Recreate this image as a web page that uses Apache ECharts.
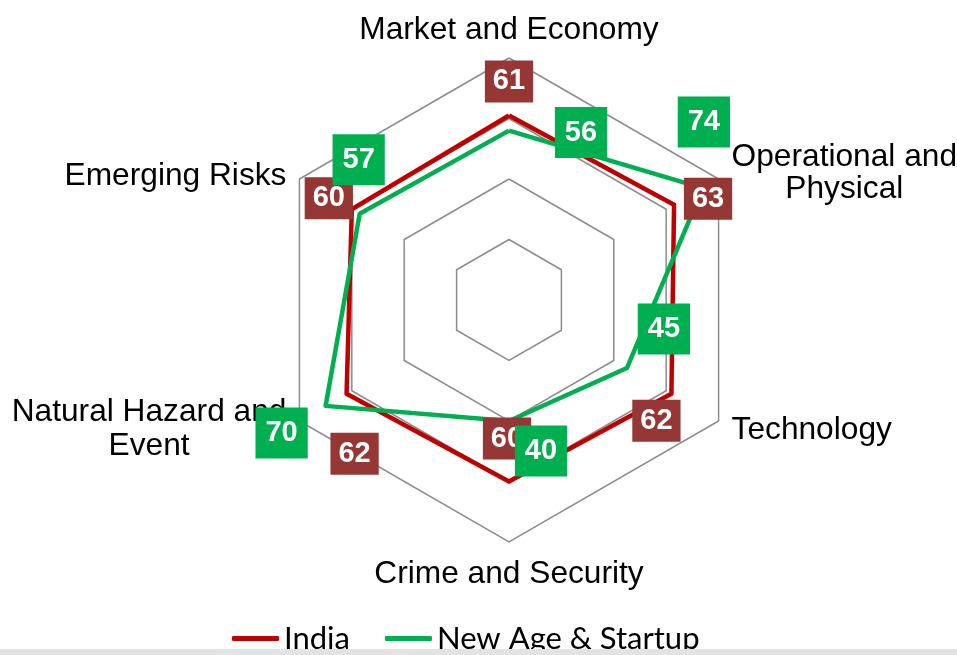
<!DOCTYPE html>
<html>
<head>
<meta charset="utf-8">
<title>Risk radar</title>
<script src="https://cdn.jsdelivr.net/npm/echarts@6.0.0/dist/echarts.min.js"></script>
<style>
  html, body { margin: 0; padding: 0; background: #fff; }
  #chart { width: 957px; height: 655px; }
</style>
</head>
<body>
<div id="chart"></div>
<script>
// indicators, counter-clockwise from the top (ECharts radar order)
const categories = [
  "Market and Economy",
  "Emerging Risks",
  "Natural Hazard and\nEvent",
  "Crime and Security",
  "Technology",
  "Operational and\nPhysical",
];
const indiaValues = [61, 60, 62, 60, 62, 63];
const startupValues = [56, 57, 70, 40, 45, 74];
const seriesNames = ["India", "New Age & Startup"];
const axisMax = 80;

// where the value boxes sit relative to their point (px)
const indiaLabelOffsets = [[0, -34], [-23, -11], [8, 60], [-2, -43], [-15, 27], [34, -6]];
const startupLabelOffsets = [[72, 2], [-1, -54], [-44, 27], [32, 30], [37, -39], [1, -66]];
// small vertical nudges for the indicator names: [padding top, line height]
const nameNudges = [[0, 25], [10, 35], [3, 35], [0, 35], [4, 35], [6, 35]];

const center = [509, 300];
const radius = 242;

var myChart = echarts.init(document.getElementById("chart"), null, { renderer: "canvas" });

// points for the value boxes: [radius value, angle]
function labelPoints(values, offsets) {
  return values.map((v, i) => ({
    value: [v, (i * 360) / categories.length],
    label: { offset: offsets[i] },
  }));
}

function boxLabel(bg, padding) {
  return {
    show: true,
    position: "inside",
    formatter: (p) => p.value[0],
    color: "#fff",
    opacity: 1,
    fontFamily: "Liberation Sans",
    fontWeight: "bold",
    fontSize: 29,
    lineHeight: 29,
    backgroundColor: bg,
    padding: padding,
  };
}

// rich styles for the names: first line carries the nudge, others plain
let nameRich = {
  c: { align: "center", color: "#000", fontFamily: "Liberation Sans", fontSize: 31.7, lineHeight: 35 },
};
nameNudges.forEach((n, i) => {
  nameRich["n" + i] = {
    align: "center",
    color: "#000",
    fontFamily: "Liberation Sans",
    fontSize: 31.7,
    lineHeight: n[1],
    padding: [n[0], 0, 0, 0],
  };
});

let option = {
  animation: false,
  backgroundColor: "#fff",
  legend: {
    left: 227,
    top: 618,
    itemWidth: 47,
    itemHeight: 5,
    itemGap: 35,
    icon: "roundRect",
    data: seriesNames,
    textStyle: { fontFamily: "Lato", fontSize: 31, color: "#000", padding: [0, 0, 5, 0] },
  },
  radar: {
    center: center,
    radius: radius,
    startAngle: 90,
    splitNumber: 4,
    shape: "polygon",
    nameGap: 15,
    indicator: categories.map((c) => ({ name: c, min: 0, max: axisMax })),
    axisName: {
      color: "#000",
      fontFamily: "Liberation Sans",
      fontSize: 31.7,
      formatter: (name) => {
        let i = categories.indexOf(name);
        return name
          .split("\n")
          .map((s, k) => "{" + (k === 0 ? "n" + i : "c") + "|" + s + "}")
          .join("\n");
      },
      rich: nameRich,
    },
    axisLine: { show: false },
    axisTick: { show: false },
    axisLabel: { show: false },
    splitArea: { show: false },
    splitLine: { lineStyle: { color: "#8c8c8c", width: 1.5 } },
  },
  polar: { center: center, radius: radius },
  angleAxis: { type: "value", min: 0, max: 360, startAngle: 90, clockwise: false, show: false },
  radiusAxis: { type: "value", min: 0, max: axisMax, show: false },
  series: [
    {
      name: seriesNames[0],
      type: "radar",
      symbol: "none",
      itemStyle: { color: "#C00000" },
      lineStyle: { color: "#C00000", width: 4.5 },
      data: [{ value: indiaValues, name: seriesNames[0] }],
      z: 3,
    },
    {
      name: seriesNames[1],
      type: "radar",
      symbol: "none",
      itemStyle: { color: "#00B050" },
      lineStyle: { color: "#00B050", width: 4.5 },
      data: [{ value: startupValues, name: seriesNames[1] }],
      z: 3,
    },
    {
      // value boxes for India
      type: "scatter",
      coordinateSystem: "polar",
      symbolSize: 1,
      itemStyle: { color: "rgba(0,0,0,0)", opacity: 1 },
      label: boxLabel("#953735", [7, 8, 6, 8]),
      data: labelPoints(indiaValues, indiaLabelOffsets),
      z: 5,
    },
    {
      // value boxes for New Age & Startup
      type: "scatter",
      coordinateSystem: "polar",
      symbolSize: 1,
      itemStyle: { color: "rgba(0,0,0,0)", opacity: 1 },
      label: boxLabel("#00B050", [12, 10, 10, 10]),
      data: labelPoints(startupValues, startupLabelOffsets),
      z: 6,
    },
  ],
  graphic: [
    {
      type: "rect",
      left: 0,
      bottom: 0,
      shape: { width: 957, height: 6 },
      style: { fill: "#e2e4e3" },
      z: 100,
    },
  ],
};

myChart.setOption(option);
</script>
</body>
</html>
